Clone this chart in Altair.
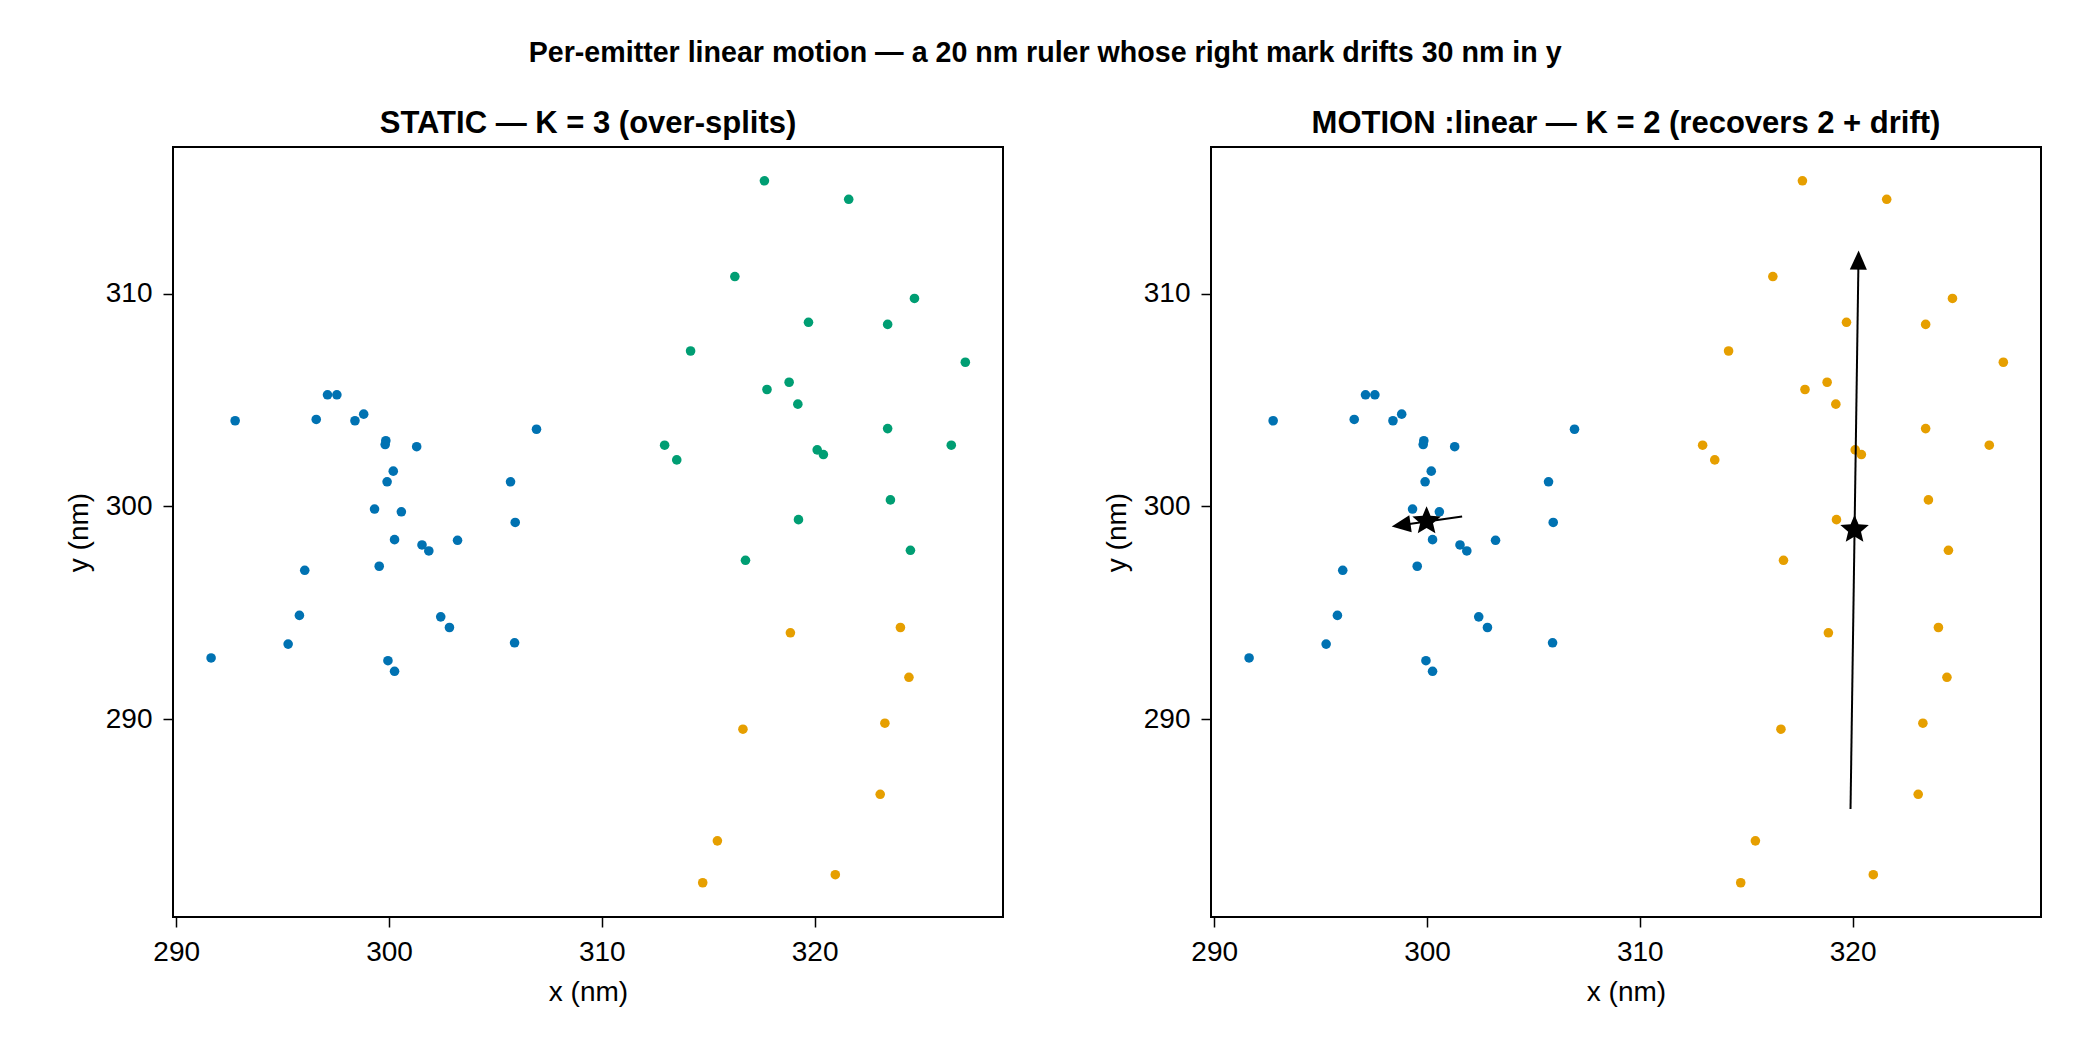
import math
import altair as alt
import pandas as pd

# ---------------- data ----------------
# emitter A (left, blue)
a_x = [291.64, 292.77, 295.26, 295.79, 296.04, 296.58, 297.11, 297.55, 298.40, 298.81,
       299.85, 299.82, 299.32, 299.54, 299.91, 300.20, 300.58, 300.26, 299.95, 300.26,
       301.30, 301.55, 301.87, 302.43, 302.84, 303.22, 305.71, 305.93, 305.90, 306.93]
a_y = [292.88, 304.03, 293.53, 294.88, 297.00, 304.09, 305.25, 305.25, 304.03, 304.34,
       303.09, 302.91, 299.88, 297.19, 301.16, 301.66, 299.75, 298.44, 292.75, 292.25,
       302.81, 298.19, 297.91, 294.81, 294.31, 298.41, 301.16, 299.25, 293.59, 303.63]
# right emitter, upper part (green in STATIC fit)
b_x = [317.64, 321.60, 316.25, 324.69, 319.71, 323.43, 314.17, 327.08, 318.80, 317.76,
       319.21, 323.43, 312.95, 326.42, 320.12, 320.41, 313.52, 323.56, 319.24, 324.50, 316.75]
b_y = [315.31, 314.44, 310.81, 309.78, 308.66, 308.56, 307.31, 306.78, 305.84, 305.50,
       304.81, 303.66, 302.88, 302.88, 302.66, 302.44, 302.19, 300.31, 299.38, 297.94, 297.47]
# right emitter, lower part (orange in STATIC fit)
c_x = [318.86, 324.03, 324.43, 323.30, 316.63, 323.08, 315.43, 314.74, 320.97]
c_y = [294.06, 294.31, 291.97, 289.81, 289.53, 286.47, 284.28, 282.31, 282.69]

# MOTION :linear fit: centres and motion arrows (start -> end)
star_x = [299.98, 320.09]
star_y = [299.31, 298.91]
arr_x0 = [301.65, 319.90]
arr_y0 = [299.53, 285.78]
arr_x1 = [298.34, 320.28]
arr_y1 = [299.06, 312.03]

x_ticks = [290, 300, 310, 320]
y_ticks = [290, 300, 310]

BLUE, ORANGE, GREEN = "#0072B2", "#E69F00", "#009E73"
FONT = "Liberation Sans"

W, H = 830, 770
XDOM = [289.85, 328.85]
YDOM = [280.70, 316.90]
sx = W / (XDOM[1] - XDOM[0])
sy = H / (YDOM[1] - YDOM[0])

# ---------------- tables ----------------
static_df = pd.DataFrame({
    "x": a_x + b_x + c_x,
    "y": a_y + b_y + c_y,
    "c": ["1"] * len(a_x) + ["3"] * len(b_x) + ["2"] * len(c_x),
})
motion_df = pd.DataFrame({
    "x": a_x + b_x + c_x,
    "y": a_y + b_y + c_y,
    "c": ["1"] * len(a_x) + ["2"] * (len(b_x) + len(c_x)),
})

HEAD = 19.0  # px
rows = []
for x0, y0, x1, y1 in zip(arr_x0, arr_y0, arr_x1, arr_y1):
    dx, dy = x1 - x0, y1 - y0
    lp = math.hypot(dx * sx, dy * sy)
    frac = (HEAD - 3) / lp
    ang = math.degrees(math.atan2(dx * sx, dy * sy)) % 360
    rows.append({"x0": x0, "y0": y0, "xb": x1 - dx * frac, "yb": y1 - dy * frac,
                 "x1": x1, "y1": y1, "ang": ang})
arrow_df = pd.DataFrame(rows)
star_df = pd.DataFrame({"x": star_x, "y": star_y})

# shapes
head_path = "M0,0L-0.45,1L0.45,1Z"
pts = []
for k in range(10):
    r = 1.0 if k % 2 == 0 else 0.45
    t = math.radians(-90 + 36 * k)
    pts.append(f"{r * math.cos(t):.4f},{r * math.sin(t):.4f}")
star_path = "M" + "L".join(pts) + "Z"

xs = alt.Scale(domain=XDOM, nice=False, zero=False)
ys = alt.Scale(domain=YDOM, nice=False, zero=False)
ax_x = alt.Axis(values=x_ticks, title="x (nm)", format="d")
ax_y = alt.Axis(values=y_ticks, title="y (nm)", format="d")


def scatter(df, dom, rng):
    return alt.Chart(df).mark_circle(size=92, opacity=1).encode(
        x=alt.X("x:Q", scale=xs, axis=ax_x),
        y=alt.Y("y:Q", scale=ys, axis=ax_y),
        color=alt.Color("c:N", scale=alt.Scale(domain=dom, range=rng), legend=None),
    )


left = scatter(static_df, ["1", "2", "3"], [BLUE, ORANGE, GREEN]).properties(
    width=W, height=H,
    title=alt.TitleParams("STATIC — K = 3 (over-splits)", frame="group"),
)

pts_r = scatter(motion_df, ["1", "2"], [BLUE, ORANGE])
lines = alt.Chart(arrow_df).mark_rule(color="black", strokeWidth=2).encode(
    x=alt.X("x0:Q", scale=xs), y=alt.Y("y0:Q", scale=ys), x2="xb:Q", y2="yb:Q")
heads = alt.Chart(arrow_df).mark_point(
    shape=head_path, filled=True, color="black", opacity=1, size=(2 * HEAD) ** 2, strokeWidth=0
).encode(x=alt.X("x1:Q", scale=xs), y=alt.Y("y1:Q", scale=ys),
         angle=alt.Angle("ang:Q", scale=None))
stars = alt.Chart(star_df).mark_point(
    shape=star_path, filled=True, color="black", opacity=1, size=(2 * 15) ** 2, strokeWidth=0
).encode(x=alt.X("x:Q", scale=xs), y=alt.Y("y:Q", scale=ys))

right = alt.layer(pts_r, lines, heads, stars).properties(
    width=W, height=H,
    title=alt.TitleParams("MOTION :linear — K = 2 (recovers 2 + drift)", frame="group"),
)

chart = alt.hconcat(left, right, spacing=98).properties(
    title=alt.TitleParams(
        "Per-emitter linear motion — a 20 nm ruler whose right mark drifts 30 nm in y",
        anchor="middle", fontSize=28.6, font=FONT, fontWeight="bold", color="black",
        offset=39, dx=-8),
    padding={"left": 56, "top": 31, "right": 5, "bottom": 5},
    background="white",
).configure_view(
    stroke="black", strokeWidth=2
).configure_axis(
    grid=False, domain=False, ticks=True, tickSize=10, tickWidth=1.5, tickColor="black",
    labelFont=FONT, titleFont=FONT, labelFontSize=28, titleFontSize=28,
    titleFontWeight="normal", labelColor="black", titleColor="black",
    labelPadding=11, titlePadding=12,
).configure_title(
    font=FONT, fontSize=31, fontWeight="bold", color="black", offset=7,
)

chart.save("out.html", embed_options={"renderer": "svg", "actions": False})
